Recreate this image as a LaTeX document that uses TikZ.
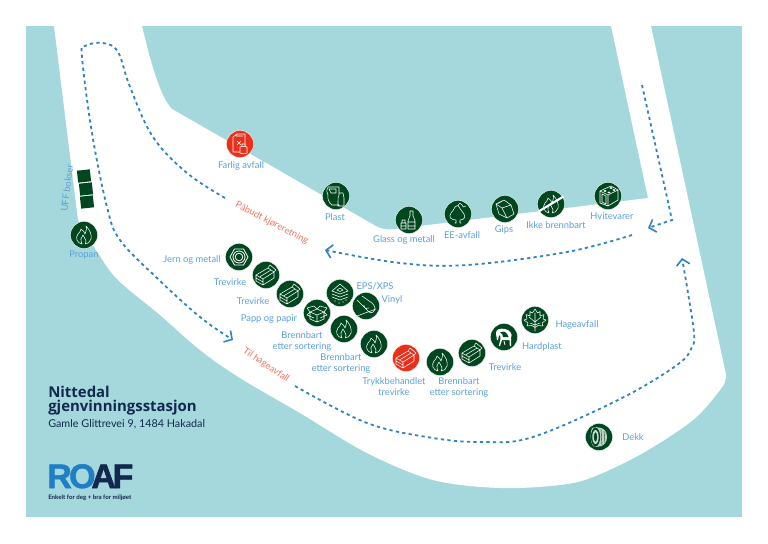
\documentclass[tikz,border=0pt]{standalone}
\usepackage{fontspec}
\setmainfont{Lato}
\newfontfamily\titlefont{Open Sans}
\newfontfamily\logofont[FakeBold=1.6]{Liberation Sans}
\usetikzlibrary{arrows.meta}
\definecolor{teal}{HTML}{A5D8DC}
\definecolor{dgreen}{HTML}{00471F}
\definecolor{routeblue}{HTML}{2F82C6}
\definecolor{lblue}{HTML}{5A9FDA}
\definecolor{ired}{HTML}{E8301A}
\definecolor{orangetxt}{HTML}{EE7560}
\definecolor{navy}{HTML}{13284F}
\definecolor{logoblue}{HTML}{1F7FC4}
\tikzset{
 spot/.style={circle,fill=dgreen,draw=white,line width=.3pt,minimum size=20.4pt,inner sep=0pt},
 redspot/.style={spot,fill=ired},
 lbl/.style={text=lblue,font=\fontsize{7}{8.0}\selectfont,inner sep=0pt,align=center},
 warn/.style={text=orangetxt,font=\fontsize{7}{8}\selectfont,inner sep=0pt},
 route/.style={draw=routeblue,line width=1.35pt,dash pattern=on 2.4pt off 2.5pt,-{Straight Barb[length=4.5pt,width=10pt,line width=1.2pt]}},
 ico/.style={draw=white,line width=.4pt,line join=round,line cap=round},
 pics/wood/.style={code={\draw[ico] (-10,0)--(-3,4)--(-3,10)--(-10,6)--cycle (-10,3)--(-3,7) (-10,0)--(2,-7)--(4,-10)--(10,-5)--(8,-3)--(-3,4) (2,-7)--(8,-3) (8,-3)--(8,3)--(-3,10) (-6.5,2)--(5,-5);}},
 pics/flame/.style={code={\draw[ico] (-2,9) .. controls (-7,8) and (-9,3) .. (-6,-1) .. controls (-5,-3) and (-3,-3) .. (-3,-6) .. controls (0,-5) and (0,-2) .. (1,-1) .. controls (2,-3) and (3,-7) .. (2,-9) .. controls (6,-5) and (8,0) .. (7,4) .. controls (6,7) and (4,9) .. (1,9) (-2,9) .. controls (-4,5) and (-3,2) .. (-1,0) .. controls (0,3) and (2,4) .. (2,6) .. controls (2,8) and (1,9) .. (1,9);}},
 pics/nut/.style={code={\draw[ico,line width=.6pt] (9,0)--(4.5,-8)--(-4.5,-8)--(-9,0)--(-4.5,8)--(4.5,8)--cycle (0,0) circle[radius=6] (0,0) circle[radius=3.8];}},
 pics/cardbox/.style={code={\draw[ico] (-7,-1)--(0,2)--(7,-1)--(7,6)--(0,9)--(-7,6)--cycle (0,2)--(0,9) (-7,-1)--(-10,-5)--(-3,-7)--(0,-4)--(3,-7)--(10,-5)--(7,-1) (-7,-1)--(0,-4)--(7,-1) (-7,-1)--(-10,2)--(-3,5) (7,-1)--(10,2)--(3,5);}},
 pics/eps/.style={code={\draw[ico] (-8,-2)--(0,-9)--(8,-2)--(0,1)--cycle (-8,1)--(0,4)--(8,1) (-8,4)--(0,7)--(8,4) (-3,-3)--(0,-5)--(3,-3)--(0,-1.5)--cycle; \fill[white] (-5,8) circle[radius=.6] (-1,10) circle[radius=.6] (3,9) circle[radius=.6] (6,7) circle[radius=.6];}},
 pics/vinyl/.style={code={\draw[ico] (-9,-6)--(3,6) .. controls (5,8) and (9,6) .. (9,2) .. controls (9,-1) and (7,-1) .. (6,-3)  (-4,-10)--(6,-3) (-9,10)--(10,3) (-2,-1) .. controls (-2,3) and (1,3) .. (3,2);}},
 pics/tyre/.style={code={\fill[white,opacity=.75] (-7,-9) .. controls (-2,-11) and (8,-10) .. (8,0) .. controls (8,10) and (-2,11) .. (-6,9) .. controls (-9,5) and (-9,-5) .. (-7,-9);\fill[dgreen] (-3.5,0) ellipse[x radius=4.6,y radius=9.4];\fill[white,opacity=.8] (-3.5,0) ellipse[x radius=3.2,y radius=7];\fill[dgreen] (-3.5,0) ellipse[x radius=1.6,y radius=4.6];\draw[dgreen,line width=.3pt] (2,-8)--(3,8) (5,-6)--(6,6);}},
 pics/leaf/.style={code={\draw[ico] (0,-11)--(2.5,-7)--(5,-8.5)--(5,-4)--(9,-5.5)--(8,-1)--(11,0)--(7,3)--(8,6)--(3,5.5)--(1,7)--(-1,7)--(-3,5.5)--(-8,6)--(-7,3)--(-11,0)--(-8,-1)--(-9,-5.5)--(-5,-4)--(-5,-8.5)--(-2.5,-7)--cycle (0,-7)--(0,11) (0,2)--(-6,-3) (0,2)--(6,-3) (0,5)--(-5,3) (0,5)--(5,3);}},
 pics/chair/.style={code={\fill[white] (-8,-3) .. controls (-9,-8) and (-3,-9) .. (1,-8) .. controls (6,-7) and (9,-3) .. (7,1) -- (7,9) -- (5.8,9) -- (5.5,3) -- (-2,3) -- (-4,9) -- (-5.2,9) -- (-3.5,2) .. controls (-3,0) and (-4,-2) .. (-5,-2) -- (-6,3) -- (-7,3) --cycle;\fill[dgreen] (-4,-4.5) .. controls (-2,-6) and (1,-6) .. (3,-3) -- (4.6,0) -- (-1,0) .. controls (-1,-2) and (-2,-4) .. (-4,-4.5);\draw[white,line width=.6pt] (0,4)--(1,8);}},
 pics/canister/.style={code={\draw[ico] (-7,-7)--(-3,-10)--(5,-10)--(5,2) (-7,-7)--(-7,8)--(0,8) (-4,-10)--(-4,-8)--(3,-8); \draw[ico] (-3,-3)--(1,1) (1,-3)--(-3,1); \draw[ico,fill=ired] (0,3)--(0,9) .. controls (1,10) and (6,10) .. (7,9) -- (7,3) .. controls (6,2) and (1,2) .. (0,3) (2,2.5)--(2,0)--(5,0)--(5,2.5);}},
 pics/plastic/.style={code={\draw[ico] (-8,-9)--(3,-9)--(3,-4) (-8,-9) .. controls (-10,-5) and (-9,-3) .. (-8,-1) .. controls (-9,2) and (-7,7) .. (-4,9) -- (3,9) (-7,-7) -- (0,-7) -- (0,-3) -- (-5,-3)--(-7,-7) (3,-4) -- (3,-1) .. controls (2,1) and (2,3) .. (2,5) -- (2,10) -- (8,10) -- (8,2) .. controls (8,0) and (7,-1) .. (7,-3) -- (4,-3) ;}},
 pics/bottles/.style={code={\draw[ico] (1,-9)--(1,-4) .. controls (1,-2) and (-1,-2) .. (-1,1) -- (-1,9) -- (6,9) -- (6,1) .. controls (6,-2) and (4,-2) .. (4,-4) -- (4,-9)--cycle (-1,2)--(6,2) (-1,6)--(6,6) (-8,3)--(-3,3)--(-3,9)--(-8,9)--cycle (-8,6)--(-3,6) (-7,3)--(-7,0)--(-4,0)--(-4,3);}},
 pics/plug/.style={code={\draw[ico] (-2,9)--(-2,6) .. controls (-7,6) and (-10,3) .. (-7,-1) .. controls (-5,-3) and (-4,-5) .. (-3,-7) .. controls (-2,-9) and (1,-9) .. (1,-7) .. controls (2,-5) and (4,-3) .. (6,0) .. controls (8,3) and (6,6) .. (2,6) -- (2,9) (-2,9)--(-3,9) (2,9)--(3,9) (0,-8) .. controls (1,-12) and (4,-11) .. (4,-9) .. controls (4,-7) and (6,-6) .. (8,-8);}},
 pics/gips/.style={code={\draw[ico] (-9,-5)--(-1,-9)--(6,-4)--(9,5)--(2,9)--(-6,5)--cycle (-9,-5)--(-3,-1)--(2,9) (-3,-1)--(6,-4) (-1,-9)--(-7,-5.5);}},
 pics/stove/.style={code={\draw[ico,line width=.45pt] (-8,-5)--(3,-10)--(10,-6)--(0,-1)--cycle (-8,-5)--(-8,7)--(0,10)--(10,4)--(10,-6) (0,-1)--(0,10) (-6,-2)--(-6,6)--(-2,8)--(-2,0)--cycle; \fill[white] (-3,-5) ellipse[x radius=1.6,y radius=1] (3,-8) ellipse[x radius=1.6,y radius=1] (1,-3.5) ellipse[x radius=1.6,y radius=1] (6,-6) ellipse[x radius=1.6,y radius=1];}}
}
\begin{document}
\begin{tikzpicture}[x=.75pt,y=-.75pt]
\useasboundingbox (0,0) rectangle (768,543);
\fill[teal] (26,26) rectangle (742,517);
% road
\fill[white] (54,26) -- (142,26) .. controls (150,60) and (160,97) .. (172,109) -- (374,225)
 .. controls (380,229) and (386,230) .. (395,229) -- (648,198) -- (611,26) -- (651,26)
 -- (725,370) -- plot[smooth,tension=.55] coordinates {(725,370) (726,378) (720,390) (693,420) (643,453) (593,477) (560,485) (500,488) (433,480) (367,453) (300,413) (240,378) (200,350) (160,315) (118,280) (98,253) (78,220)} -- cycle;
% UFF boxes
\foreach \p/\q in {84/176,86/189,87/202}{
 \fill[dgreen,rotate around={6:(\p,\q)}] (\p-6.5,\q-6) rectangle (\p+6.5,\q+6);}
% route anchors
\coordinate (rA) at (225,198); \coordinate (rB) at (233,340);
\coordinate (rC) at (295,386); \coordinate (rD) at (682,258);
\coordinate (rE) at (642,85); \coordinate (rF) at (672,220); \coordinate (rG) at (648,228);
\coordinate (rH) at (632,235); \coordinate (rI) at (325,250);
\draw[route] plot[smooth,tension=.6] coordinates {(rA) (187,173) (153,137) (130,87) (118,52) (103,43) (85,46) (82,57) (92,133) (107,207) (120,240) (157,278) (200,317) (rB)};
\draw[route] plot[smooth,tension=.6] coordinates {(rC) (367,423) (433,438) (483,442) (533,437) (620,399) (677,365) (692,347) (694,333) (688,293) (rD)};
\draw[route] (rE) -- (rF) -- (rG);
\draw[route] plot[smooth,tension=.6] coordinates {(rH) (567,252) (467,265) (400,263) (rI)};
% stations
\node[redspot] (farlig) at (240,144) {}; \pic at (farlig) {canister};
\node[spot] (propan) at (84,235) {}; \pic at (propan) {flame};
\node[spot] (plast) at (336,196) {}; \pic at (plast) {plastic};
\node[spot] (glass) at (409,220) {}; \pic at (glass) {bottles};
\node[spot] (ee) at (458,214) {}; \pic at (ee) {plug};
\node[spot] (gips) at (505,209) {}; \pic at (gips) {gips};
\node[spot] (ikke) at (551,204) {}; \pic at (ikke) {flame};
\draw[white,line width=1.6pt] (ikke) ++(-12.5,7.5) -- ++(25,-15);
\node[spot] (hvite) at (608,196) {}; \pic at (hvite) {stove};
\node[spot] (jern) at (239,257) {}; \pic at (jern) {nut};
\node[spot] (tre1) at (266,275) {}; \pic at (tre1) {wood};
\node[spot] (tre2) at (290,294) {}; \pic at (tre2) {wood};
\node[spot] (papp) at (317,313) {}; \pic at (papp) {cardbox};
\node[spot] (eps) at (340,293) {}; \pic at (eps) {eps};
\node[spot] (vinyl) at (366,306) {}; \pic at (vinyl) {vinyl};
\node[spot] (br1) at (344,329) {}; \pic at (br1) {flame};
\node[spot] (br2) at (374,344) {}; \pic at (br2) {flame};
\node[redspot] (trykk) at (406,358) {}; \pic at (trykk) {wood};
\node[spot] (br3) at (440,362) {}; \pic at (br3) {flame};
\node[spot] (tre3) at (472,353) {}; \pic at (tre3) {wood};
\node[spot] (hard) at (504,337) {}; \pic at (hard) {chair};
\node[spot] (hage) at (535,320) {}; \pic at (hage) {leaf};
\node[spot] (dekk) at (599,437) {}; \pic at (dekk) {tyre};
% labels
\node[lbl] (tFarlig) at (241,166) {Farlig avfall};
\node[lbl,rotate=83] (tUff) at (67,188) {UFF bokser};
\node[lbl] (tPropan) at (84,254.5) {Propan};
\node[lbl] (tJern) at (192,260) {Jern og metall};
\node[lbl] (tTre1) at (230,282) {Trevirke};
\node[lbl] (tTre2) at (253,301) {Trevirke};
\node[lbl] (tPapp) at (269,319) {Papp og papir};
\node[lbl] (tEps) at (375,286) {EPS/XPS};
\node[lbl] (tVinyl) at (392,300) {Vinyl};
\node[lbl] (tBr1) at (302,341.5) {Brennbart\\etter sortering};
\node[lbl] (tBr2) at (341,363.5) {Brennbart\\etter sortering};
\node[lbl] (tTrykk) at (394,386.5) {Trykkbehandlet\\trevirke};
\node[lbl] (tBr3) at (459,387.5) {Brennbart\\etter sortering};
\node[lbl] (tTre3) at (505,367) {Trevirke};
\node[lbl] (tHard) at (542,347) {Hardplast};
\node[lbl] (tHage) at (577,325) {Hageavfall};
\node[lbl] (tDekk) at (633,437) {Dekk};
\node[lbl] (tPlast) at (335,217) {Plast};
\node[lbl] (tGlass) at (404,240) {Glass og metall};
\node[lbl] (tEE) at (462,235) {EE-avfall};
\node[lbl] (tGips) at (504,230) {Gips};
\node[lbl] (tIkke) at (556,225) {Ikke brennbart};
\node[lbl] (tHvite) at (612,216) {Hvitevarer};
\node[warn,rotate=-27.5] (tPab) at (272,223) {Påbudt kjøreretning};
\node[warn,rotate=-34] (tTil) at (266,365) {Til hageavfall};
% title
\node[anchor=base west,inner sep=0pt,text=navy,font=\titlefont\bfseries\fontsize{11.2}{12}\selectfont] (title1) at (48,397) {Nittedal};
\node[anchor=base west,inner sep=0pt,text=navy,font=\titlefont\bfseries\fontsize{11.2}{12}\selectfont] (title2) at (48,411) {gjenvinningsstasjon};
\node[anchor=base west,inner sep=0pt,text=navy,font=\fontsize{8.1}{9}\selectfont] (addr) at (48,427) {Gamle Glittrevei 9, 1484 Hakadal};
% logo
\node[anchor=base west,inner sep=0pt,font=\logofont\bfseries\fontsize{25.5}{26}\selectfont] (logo) at (47,488) {\textcolor{logoblue}{R\kern-2ptO}\kern-3.2pt\textcolor{navy}{A\kern-2.4ptF}};
\node[anchor=base west,inner sep=0pt,text=navy,font=\bfseries\fontsize{4.6}{5}\selectfont] (tag) at (48,499) {Enkelt for deg + bra for miljøet};
\end{tikzpicture}
\end{document}
